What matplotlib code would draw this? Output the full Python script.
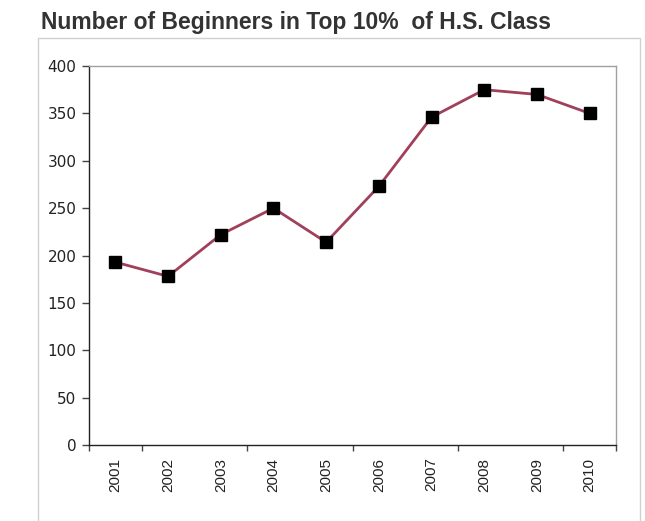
import matplotlib
matplotlib.use("Agg")
import matplotlib.pyplot as plt
from matplotlib.patches import Rectangle

years = ["2001", "2002", "2003", "2004", "2005", "2006", "2007", "2008", "2009", "2010"]
beginners = [193, 178, 222, 250, 214, 273, 346, 375, 370, 350]
y_ticks = [0, 50, 100, 150, 200, 250, 300, 350, 400]

plt.rcParams['font.family'] = ['Liberation Sans', 'DejaVu Sans']

W, H = 645, 521
fig = plt.figure(figsize=(W / 100, H / 100), dpi=100)
fig.patch.set_facecolor('white')

# outer chart-area border
fig.patches.append(Rectangle((38 / W, -0.01), (640 - 38) / W, (H - 38) / H + 0.01,
                             transform=fig.transFigure, fill=False,
                             edgecolor='#d0d0d0', linewidth=1.0))

ax = fig.add_axes([89 / W, (H - 445) / H, (616 - 89) / W, (445 - 66) / H])
x = list(range(len(years)))
ax.plot(x, beginners, color='#a0405a', linewidth=2.0, marker='s',
        markersize=8.5, markerfacecolor='black', markeredgecolor='black', zorder=3)

ax.set_xlim(-0.5, len(years) - 0.5)
ax.set_ylim(0, 400)
ax.set_yticks(y_ticks)
ax.set_yticklabels([str(v) for v in y_ticks], fontsize=11, color='#222222',
                   family=['DejaVu Sans'])
ax.set_xticks(x)
ax.set_xticklabels(years, rotation=90, fontsize=11, color='#222222')
ax.tick_params(axis='x', which='major', length=0, pad=9)
ax.set_xticks([-0.5, 0.5, 2.5, 4.5, 6.5, 8.5, 9.5], minor=True)
ax.tick_params(axis='x', which='minor', length=4, width=1, color='#444444')
ax.tick_params(axis='y', length=5, width=1, color='#444444', pad=4)

ax.spines['left'].set_color('#222222')
ax.spines['bottom'].set_color('#222222')
ax.spines['top'].set_color('#a0a0a0')
ax.spines['right'].set_color('#a0a0a0')
for s in ax.spines.values():
    s.set_linewidth(1.0)

fig.text(41 / W, 1 - 22 / H, "Number of Beginners in Top 10%  of H.S. Class",
         fontsize=16.5, fontweight='bold', color='#333333', ha='left', va='center')

fig.savefig("out.png", dpi=100)
